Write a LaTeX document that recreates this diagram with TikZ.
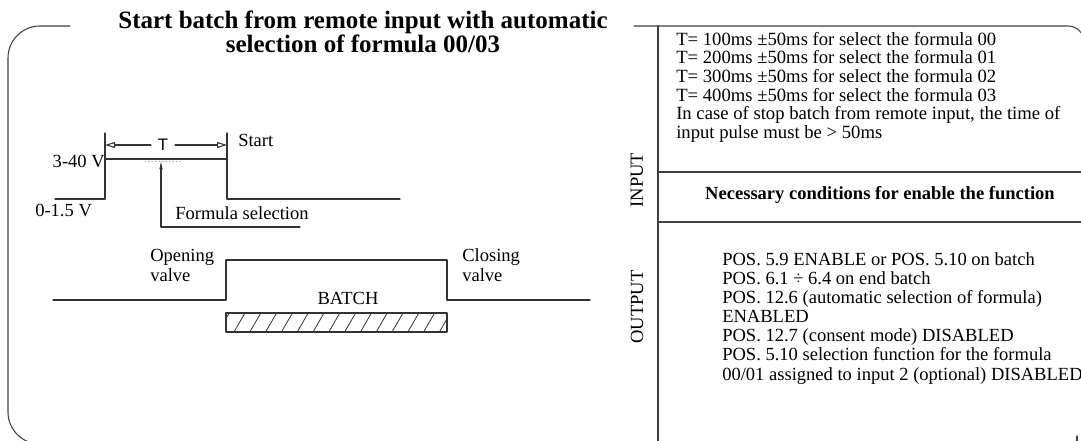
\documentclass[tikz,border=0pt]{standalone}
\usepackage{fontspec}
\setmainfont{Liberation Serif}
\setsansfont{Liberation Sans}
\usetikzlibrary{arrows.meta,positioning}

\tikzset{
  wave/.style={line width=0.8pt, draw=black!80},
  frame/.style={line width=0.8pt, draw=black!75},
  lbl/.style={inner sep=0pt, font=\fontsize{13.9}{13.5}\selectfont},
  boldlbl/.style={inner sep=0pt, font=\bfseries\fontsize{13.9}{13.5}\selectfont},
  headline/.style={inner sep=0pt, align=center, font=\bfseries\fontsize{18.75}{17.6}\selectfont},
}

\begin{document}
\begin{tikzpicture}[x=0.75pt, y=-0.75pt, >=stealth, line join=round, line cap=round]
  \useasboundingbox (0,0) rectangle (1081,441);
  \clip (0,0) rectangle (1081,441);

  % frames
  \draw[frame, rounded corners=24] (70,26) -- (8,26) -- (8,444) -- (60,444);
  \draw[frame, rounded corners=12] (634,26) -- (1084,26) -- (1084,460);
  \draw[frame] (1077,436) -- (1077,441);
  \draw[frame] (658,26) -- (658,441);
  \draw[frame] (658,172) -- (1081,172);
  \draw[frame] (658,222) -- (1081,222);

  \node[headline, anchor=north] (title) at (363,11)
    {Start batch from remote input with automatic\\selection of formula 00/03};

  % remote input pulse
  \draw[wave] (55,199) -- (105,199) -- (105,159) -- (227,159) -- (227,199) -- (400,199);
  \draw[wave] (105,133) -- (105,159);
  \draw[wave] (227,133) -- (227,159);
  \draw[black!35, dotted, line width=0.6pt] (145,161) -- (182,161);
  \node[inner sep=0pt, inner xsep=5pt, font=\sffamily\fontsize{12.5}{14}\selectfont] (per) at (163,145) {T};
  \draw[wave, -{Triangle[open, length=7.5pt, width=4.5pt]}] (per.west) -- (105,145);
  \draw[wave, -{Triangle[open, length=7.5pt, width=4.5pt]}] (per.east) -- (227,145);
  \draw[wave, -{Latex[length=7pt, width=2.6pt]}] (300,227) -- (161,227) -- (161,160);

  \node[lbl, anchor=base east] (high) at (105,168) {3-40 V};
  \node[lbl, anchor=base west] (low) at (35,217) {0-1.5 V};
  \node[lbl, anchor=base west] (start) at (238,147) {Start};
  \node[lbl, anchor=base west] (fsel) at (175,220) {Formula selection};

  % valve output
  \draw[wave] (53,300) -- (226,300) -- (226,260) -- (447,260) -- (447,300) -- (590,300);
  \node[lbl, anchor=north west, align=left, font=\fontsize{13.9}{15}\selectfont] (open) at (150,248.5) {Opening\\valve};
  \node[lbl, anchor=north west, align=left, font=\fontsize{13.9}{15}\selectfont] (close) at (462,248.5) {Closing\\valve};
  \node[lbl, anchor=base] (batch) at (348,305) {BATCH};
  \begin{scope}
    \clip (226,313) rectangle (447,332);
    \foreach \i in {-1,...,13}
      \draw[wave, line width=0.6pt] (234+15.8*\i,332) -- (245+15.8*\i,313);
  \end{scope}
  \draw[wave] (226,313) rectangle (447,332);

  % input / output table
  \node[lbl, rotate=90] (inlbl) at (637,180) {INPUT};
  \node[lbl, rotate=90] (outlbl) at (637,307) {OUTPUT};
  \node[lbl, anchor=north west, align=left, font=\fontsize{14}{13.9}\selectfont] (timing) at (676,32)
    {T= 100ms ±50ms for select the formula 00\\
     T= 200ms ±50ms for select the formula 01\\
     T= 300ms ±50ms for select the formula 02\\
     T= 400ms ±50ms for select the formula 03\\
     In case of stop batch from remote input, the time of\\
     input pulse must be > 50ms};
  \node[boldlbl, anchor=base] (need) at (880,200) {Necessary conditions for enable the function};
  \node[lbl, anchor=north west, align=left, font=\fontsize{13.9}{14.3}\selectfont] (conds) at (722,252.5)
    {POS. 5.9 ENABLE or POS. 5.10 on batch\\
     POS. 6.1 ÷ 6.4 on end batch\\
     POS. 12.6 (automatic selection of formula)\\
     ENABLED\\
     POS. 12.7 (consent mode) DISABLED\\
     POS. 5.10 selection function for the formula\\
     00/01 assigned to input 2 (optional) DISABLED};
\end{tikzpicture}
\end{document}
